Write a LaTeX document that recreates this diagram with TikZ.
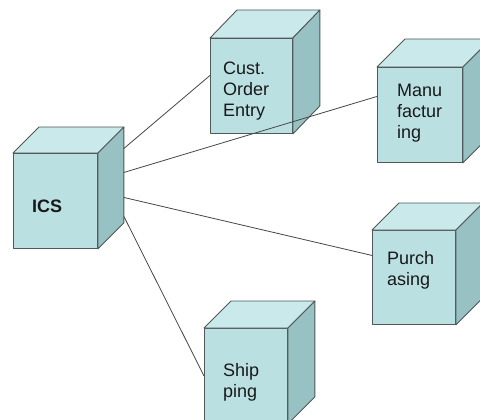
\documentclass[tikz,border=0pt]{standalone}
\usepackage{fontspec}
\setmainfont{Liberation Sans}
\begin{document}
\begin{tikzpicture}[x=1pt,y=-1pt,
  face/.style={draw=edgegray, line width=0.9pt, line join=round},
  frontface/.style={face, fill=cubefront, rectangle, inner sep=0pt, anchor=north west},
  label/.style={anchor=base west, inner sep=0pt, align=left, text=black!90,
    font=\fontsize{18}{21}\selectfont},
  link/.style={draw=linkgray, line width=0.8pt}]
\definecolor{cubefront}{RGB}{186,224,226}
\definecolor{cubetop}{RGB}{202,233,235}
\definecolor{cubeside}{RGB}{152,193,195}
\definecolor{edgegray}{RGB}{80,88,88}
\definecolor{linkgray}{RGB}{70,70,70}
% #1 name, #2 front top-left corner, #3 width, #4 height, #5 depth offset
\newcommand\cubebox[5]{%
  \node[frontface, minimum width=#3, minimum height=#4] (#1) at #2 {};
  \draw[face, fill=cubetop] (#1.north west) -- ([shift={#5}]#1.north west)
     -- ([shift={#5}]#1.north east) -- (#1.north east) -- cycle;
  \draw[face, fill=cubeside] (#1.north east) -- ([shift={#5}]#1.north east)
     -- ([shift={#5}]#1.south east) -- (#1.south east) -- cycle;}
\useasboundingbox (0,0) rectangle (480,420);
\clip (0,0) rectangle (480,420);
\cubebox{ics}{(13,153)}{84}{95}{(26,-26)}
\cubebox{cust}{(210,38)}{82}{95}{(27,-28)}
\cubebox{manu}{(377,67)}{85}{95}{(28,-28)}
\cubebox{purch}{(372,230)}{83}{94}{(27,-27)}
\cubebox{ship}{(204,328)}{83}{95}{(27,-27)}
% captions on the front faces (anchored at the last line's baseline)
\node[label, font=\fontsize{18}{21}\selectfont\bfseries] (icst) at (32,212) {ICS};
\node[label] (custt) at (223,117) {Cust.\\Order\\Entry};
\node[label] (manut) at (397,139) {Manu\\factur\\ing};
\node[label] (purcht) at (387,285) {Purch\\asing};
\node[label] (shipt) at (223,397) {Ship\\ping};
% attachment points on the back edge of the ICS cube
\coordinate (s1) at ([shift={(26,-52.5)}]ics.east);
\coordinate (s2) at ([shift={(26,-28.5)}]ics.east);
\coordinate (s3) at ([shift={(26,-3.5)}]ics.east);
\coordinate (s4) at ([shift={(26,15.5)}]ics.east);
\draw[link] (s1) -- ([shift={(0,-10.5)}]cust.west);
\draw[link] (s2) -- ([shift={(0,-18.5)}]manu.west);
\draw[link] (s3) -- ([shift={(0,-22)}]purch.west);
\draw[link] (s4) -- (ship.west);
\end{tikzpicture}
\end{document}
